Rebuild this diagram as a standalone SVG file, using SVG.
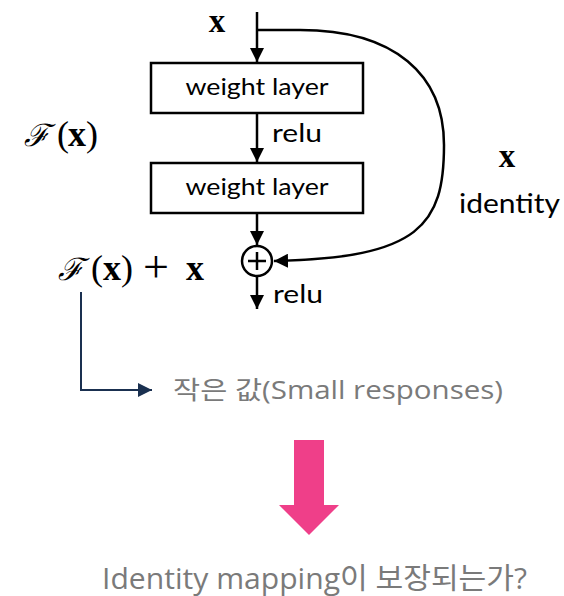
<svg xmlns="http://www.w3.org/2000/svg" width="564" height="596" viewBox="0 0 564 596">
<style>
.box{fill:#fff;stroke:#000;stroke-width:2.5}
.ln{fill:none;stroke:#000;stroke-width:2.5}
.lbl{font-family:Lato,"Open Sans","Liberation Sans",sans-serif;fill:#000}
.math{font-family:"Liberation Serif","DejaVu Serif",serif;fill:#000}
.cal{font-family:"DejaVu Serif",serif;font-style:italic;font-size:31px}
.gray{font-family:"Open Sans","Noto Sans CJK KR",sans-serif;fill:#7a7a7a}
</style>
<defs>
<marker id="ah" viewBox="0 0 10 10" refX="10" refY="5" markerWidth="14" markerHeight="14" markerUnits="userSpaceOnUse" orient="auto">
<path d="M0,0 L10,5 L0,10 z" fill="#000"/>
</marker>
<marker id="ahb" viewBox="0 0 10 10" refX="10" refY="5" markerWidth="14" markerHeight="14" markerUnits="userSpaceOnUse" orient="auto">
<path d="M0,0 L10,5 L0,10 z" fill="#1a3050"/>
</marker>
</defs>
<g id="connectors">
<path class="ln" d="M257,12 V62" marker-end="url(#ah)"/>
<path class="ln" d="M257,113 V162" marker-end="url(#ah)"/>
<path class="ln" d="M257,213 V245" marker-end="url(#ah)"/>
<path class="ln" d="M257,277 V309" marker-end="url(#ah)"/>
<path class="ln" d="M257,30 H300 C395,30 444,75 444,145 C444,225 420,258 274,261" marker-end="url(#ah)"/>
<path d="M81,292 V390 H152" fill="none" stroke="#1a3050" stroke-width="2" marker-end="url(#ahb)"/>
</g>
<g id="weight1">
<rect class="box" x="151" y="63" width="212" height="50"/>
<text class="lbl" x="257" y="95" font-size="24" text-anchor="middle" textLength="143" lengthAdjust="spacingAndGlyphs">weight layer</text>
</g>
<g id="weight2">
<rect class="box" x="151" y="163" width="212" height="50"/>
<text class="lbl" x="257" y="195" font-size="24" text-anchor="middle" textLength="143" lengthAdjust="spacingAndGlyphs">weight layer</text>
</g>
<g id="sum">
<circle cx="257" cy="261" r="15" fill="#fff" stroke="#000" stroke-width="2.5"/>
<path d="M257,252 V270 M248,261 H266" stroke="#000" stroke-width="2.5"/>
</g>
<g id="labels">
<text class="math" x="217" y="32" font-size="33" font-weight="bold" text-anchor="middle">x</text>
<text class="lbl" x="272" y="142" font-size="25" textLength="50" lengthAdjust="spacingAndGlyphs">relu</text>
<text class="lbl" x="273" y="303" font-size="25" textLength="50" lengthAdjust="spacingAndGlyphs">relu</text>
<text class="math" x="507" y="167" font-size="33" font-weight="bold" text-anchor="middle">x</text>
<text class="lbl" x="459" y="213" font-size="26" textLength="101" lengthAdjust="spacingAndGlyphs">identity</text>
<text class="math" y="146" font-size="36"><tspan x="24" class="cal">ℱ</tspan><tspan x="57">(</tspan><tspan x="68" font-weight="bold">x</tspan><tspan x="86">)</tspan></text>
<text class="math" y="280" font-size="36"><tspan x="58" class="cal">ℱ</tspan><tspan x="91">(</tspan><tspan x="103" font-weight="bold">x</tspan><tspan x="121">)</tspan><tspan x="143" y="282" font-size="46">+</tspan><tspan x="186" y="280" font-weight="bold">x</tspan></text>
</g>
<g id="small">
<text class="gray" x="173" y="399" font-size="25" textLength="330" lengthAdjust="spacingAndGlyphs">작은 값(Small responses)</text>
</g>
<g id="bigarrow">
<path d="M294,440 H324 V505 H339 L309,535 L279,505 H294 Z" fill="#EF3F89"/>
</g>
<g id="question">
<text class="gray" x="102" y="589" font-size="29" textLength="425" lengthAdjust="spacingAndGlyphs">Identity mapping이 보장되는가?</text>
</g>
</svg>
